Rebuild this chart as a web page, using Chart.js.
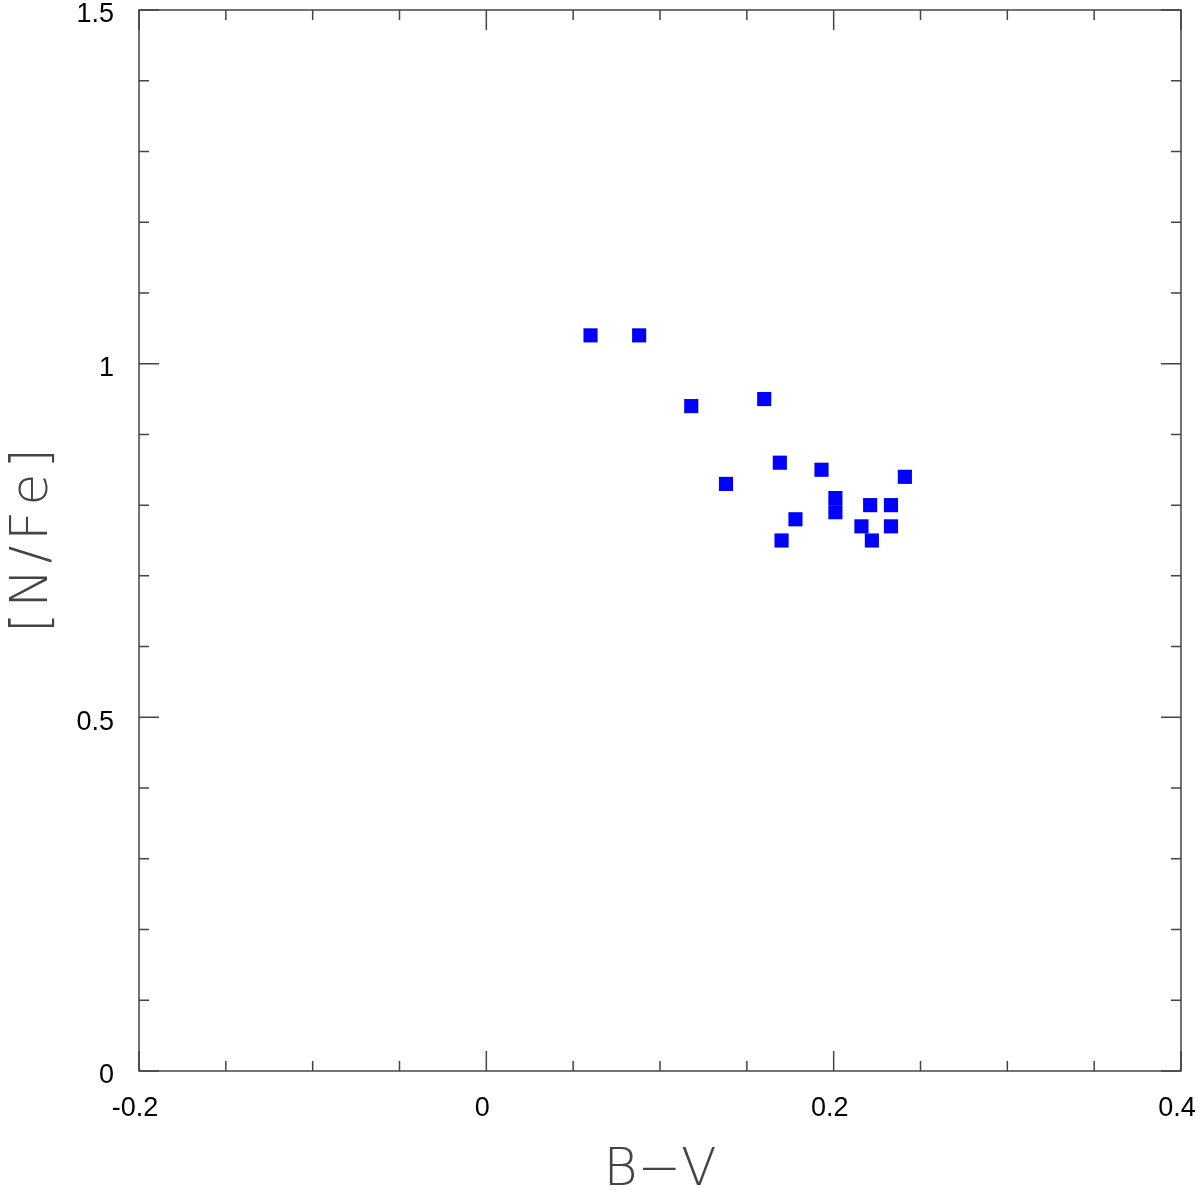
<!DOCTYPE html>
<html>
<head>
<meta charset="utf-8">
<script src="https://cdn.jsdelivr.net/npm/chart.js@4"></script>
<style>
  html, body { margin: 0; padding: 0; background: #fff; }
  #wrap { width: 1200px; height: 1190px; }
</style>
</head>
<body>
<div id="wrap"><canvas id="myChart"></canvas></div>
<script>
// B-V colour of each star
const bvValues = [0.060, 0.088, 0.118, 0.160, 0.169, 0.193, 0.241, 0.138, 0.201, 0.201,
                  0.221, 0.233, 0.178, 0.216, 0.233, 0.170, 0.222];
// [N/Fe] of each star
const nfeValues = [1.04, 1.04, 0.94, 0.95, 0.86, 0.85, 0.84, 0.83, 0.81, 0.79,
                   0.80, 0.80, 0.78, 0.77, 0.77, 0.75, 0.75];

const xMajorTicks = [-0.2, 0, 0.2, 0.4];
const yMajorTicks = [0, 0.5, 1, 1.5];
const xMinorStep = 0.05;
const yMinorStep = 0.1;

const points = bvValues.map((x, i) => ({ x: x, y: nfeValues[i] }));

// frame plus inward ticks on all four sides, like the old plotting packages
const frameTicks = {
  id: 'frameTicks',
  afterDraw(chart) {
    const { ctx, chartArea, scales } = chart;
    const xs = scales.x, ys = scales.y;
    ctx.save();
    ctx.strokeStyle = '#444';
    ctx.lineWidth = 1.5;
    ctx.strokeRect(chartArea.left, chartArea.top, chartArea.right - chartArea.left, chartArea.bottom - chartArea.top);

    const isMajor = (v, list) => list.some(m => Math.abs(m - v) < 1e-6);

    for (let v = xs.min; v <= xs.max + 1e-9; v += xMinorStep) {
      const px = xs.getPixelForValue(v);
      const len = isMajor(v, xMajorTicks) ? 20 : 10;
      ctx.beginPath();
      ctx.moveTo(px, chartArea.bottom);
      ctx.lineTo(px, chartArea.bottom - len);
      ctx.moveTo(px, chartArea.top);
      ctx.lineTo(px, chartArea.top + len);
      ctx.stroke();
    }
    for (let v = ys.min; v <= ys.max + 1e-9; v += yMinorStep) {
      const py = ys.getPixelForValue(v);
      const len = isMajor(v, yMajorTicks) ? 20 : 10;
      ctx.beginPath();
      ctx.moveTo(chartArea.left, py);
      ctx.lineTo(chartArea.left + len, py);
      ctx.moveTo(chartArea.right, py);
      ctx.lineTo(chartArea.right - len, py);
      ctx.stroke();
    }
    ctx.restore();
  }
};

const titleFont = { family: "'DejaVu Sans ExtraLight', 'DejaVu Sans', sans-serif", size: 52, weight: 200 };
const tickFont = { family: "'Liberation Sans', Arial, sans-serif", size: 27 };

// no extra room for overflowing end labels, the frame is placed by layout padding
const noScalePadding = (scale) => {
  scale.paddingTop = 0;
  scale.paddingBottom = 0;
  scale.paddingLeft = 0;
  scale.paddingRight = 0;
};

const ctx = document.getElementById('myChart');

const chartConfig = {
  type: 'scatter',
  data: {
    datasets: [{
      label: '[N/Fe] vs B-V',
      data: points,
      pointStyle: 'rect',
      pointRadius: 10,
      pointHoverRadius: 10,
      borderWidth: 0,
      backgroundColor: '#0000ff',
      borderColor: '#0000ff'
    }]
  },
  options: {
    animation: { duration: 0 },
    responsive: true,
    maintainAspectRatio: false,
    layout: { padding: { top: 10, right: 19, left: 0, bottom: 0 } },
    plugins: {
      legend: { display: false },
      tooltip: { enabled: false }
    },
    scales: {
      x: {
        type: 'linear',
        min: -0.2,
        max: 0.4,
        grid: { display: false },
        border: { display: false },
        afterFit: (scale) => { scale.height = 119; noScalePadding(scale); },
        afterBuildTicks: (scale) => { scale.ticks = xMajorTicks.map(v => ({ value: v })); },
        ticks: {
          color: '#000',
          font: tickFont,
          padding: 13,
          labelOffset: -4,
          maxRotation: 0,
          callback: (v) => String(Math.round(v * 10) / 10)
        },
        title: {
          display: true,
          text: 'B−V',
          color: '#444',
          font: titleFont,
          padding: { top: 14, bottom: -13 }
        }
      },
      y: {
        type: 'linear',
        min: 0,
        max: 1.5,
        grid: { display: false },
        border: { display: false },
        afterFit: (scale) => { scale.width = 139; noScalePadding(scale); },
        afterBuildTicks: (scale) => { scale.ticks = yMajorTicks.map(v => ({ value: v })); },
        ticks: {
          color: '#000',
          font: tickFont,
          padding: 17,
          labelOffset: 5,
          callback: (v) => String(Math.round(v * 10) / 10)
        },
        title: {
          display: true,
          text: '[\u200AN\u200A/\u200AF\u200Ae\u200A]',
          color: '#444',
          font: titleFont,
          padding: { top: 2, bottom: 0 }
        }
      }
    }
  },
  plugins: [frameTicks]
};

const myChart = new Chart(ctx, chartConfig);
</script>
</body>
</html>
